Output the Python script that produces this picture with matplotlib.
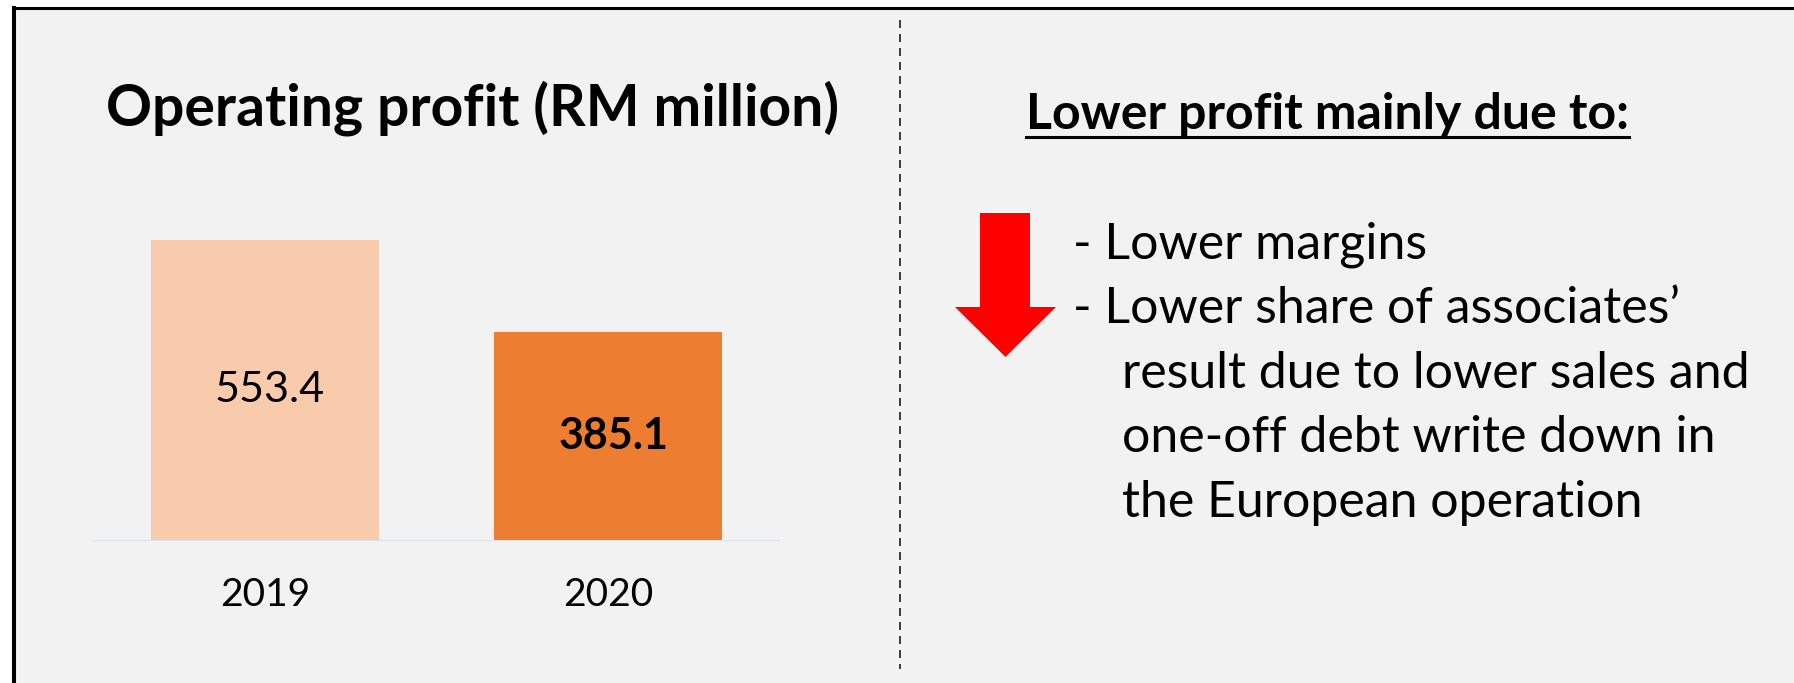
import matplotlib

matplotlib.use("Agg")
import matplotlib.pyplot as plt
from matplotlib.patches import Polygon, Rectangle
from matplotlib.lines import Line2D

# data
years = ["2019", "2020"]
profit = [553.4, 385.1]
bar_colors = ["#F8CBAD", "#ED7D31"]
label_weights = ["normal", "bold"]

chart_title = "Operating profit (RM million)"
note_title = "Lower profit mainly due to:"
note_lines = [
    "- Lower margins",
    "- Lower share of associates\u2019",
    "result due to lower sales and",
    "one-off debt write down in",
    "the European operation",
]

W, H = 1794, 683
plt.rcParams["font.family"] = ["Lato", "DejaVu Sans"]


def fx(px):
    return px / W


def fy(py):
    return 1 - py / H


fig = plt.figure(figsize=(W / 100, H / 100), dpi=100, facecolor="white")

# grey panel with black frame (right and bottom edges run off the slide)
fig.patches.append(
    Rectangle((fx(14), 0), 1, fy(7.5), transform=fig.transFigure,
              facecolor="#F2F2F2", edgecolor="none", zorder=-10)
)
fig.add_artist(Line2D([fx(14), fx(14)], [0, fy(7.5)], transform=fig.transFigure,
                      color="black", lw=2.9, solid_capstyle="projecting"))
fig.add_artist(Line2D([fx(14), 1], [fy(7.5), fy(7.5)], transform=fig.transFigure,
                      color="black", lw=2.2, solid_capstyle="projecting"))

# dashed divider
fig.add_artist(Line2D([fx(899.5), fx(899.5)], [fy(20), fy(669)], transform=fig.transFigure,
                      color="#404040", lw=1.44, linestyle=(0, (4, 3))))

# bar chart
ax = fig.add_axes([fx(93), fy(541), fx(780) - fx(93), fy(201) - fy(541)])
ax.set_zorder(5)
ax.set_facecolor("none")
ax.bar(range(len(years)), profit, width=0.664, color=bar_colors, zorder=1)
ax.axhline(0, color="#DCE0E8", lw=2.2, zorder=2)
ax.set_xlim(-0.5, 1.5)
ax.set_ylim(0, 625)
for i, v in enumerate(profit):
    ax.text(i + 0.015, v / 2, f"{v:.1f}", ha="center", va="center",
            fontsize=31, fontweight=label_weights[i], color="black")
ax.set_xticks(range(len(years)), years, fontsize=28)
ax.tick_params(axis="x", length=0, pad=26)
ax.set_yticks([])
for s in ax.spines.values():
    s.set_visible(False)

fig.text(fx(473), fy(126), chart_title, ha="center", va="baseline",
         fontsize=41, fontweight="bold")

# right hand commentary
t = fig.text(fx(1327), fy(129), note_title, ha="center", va="baseline",
             fontsize=36, fontweight="bold")

arrow = [(980, 213), (1030, 213), (1030, 307), (1056, 307),
         (1005.5, 357), (955, 307), (980, 307)]
fig.patches.append(
    Polygon([(fx(x), fy(y)) for x, y in arrow], closed=True,
            transform=fig.transFigure, facecolor="#FF0000", edgecolor="none")
)

y0 = 259
for i, line in enumerate(note_lines):
    x = 1073 if line.startswith("-") else 1122
    fig.text(fx(x), fy(y0 + i * 64.5), line, ha="left", va="baseline", fontsize=36)

# underline the commentary heading
fig.canvas.draw()
bb = t.get_window_extent()
fig.add_artist(Line2D([bb.x0 / W, bb.x1 / W], [fy(137), fy(137)],
                      transform=fig.transFigure, color="black", lw=2.2))

fig.savefig("out.png", dpi=100, facecolor=fig.get_facecolor())
